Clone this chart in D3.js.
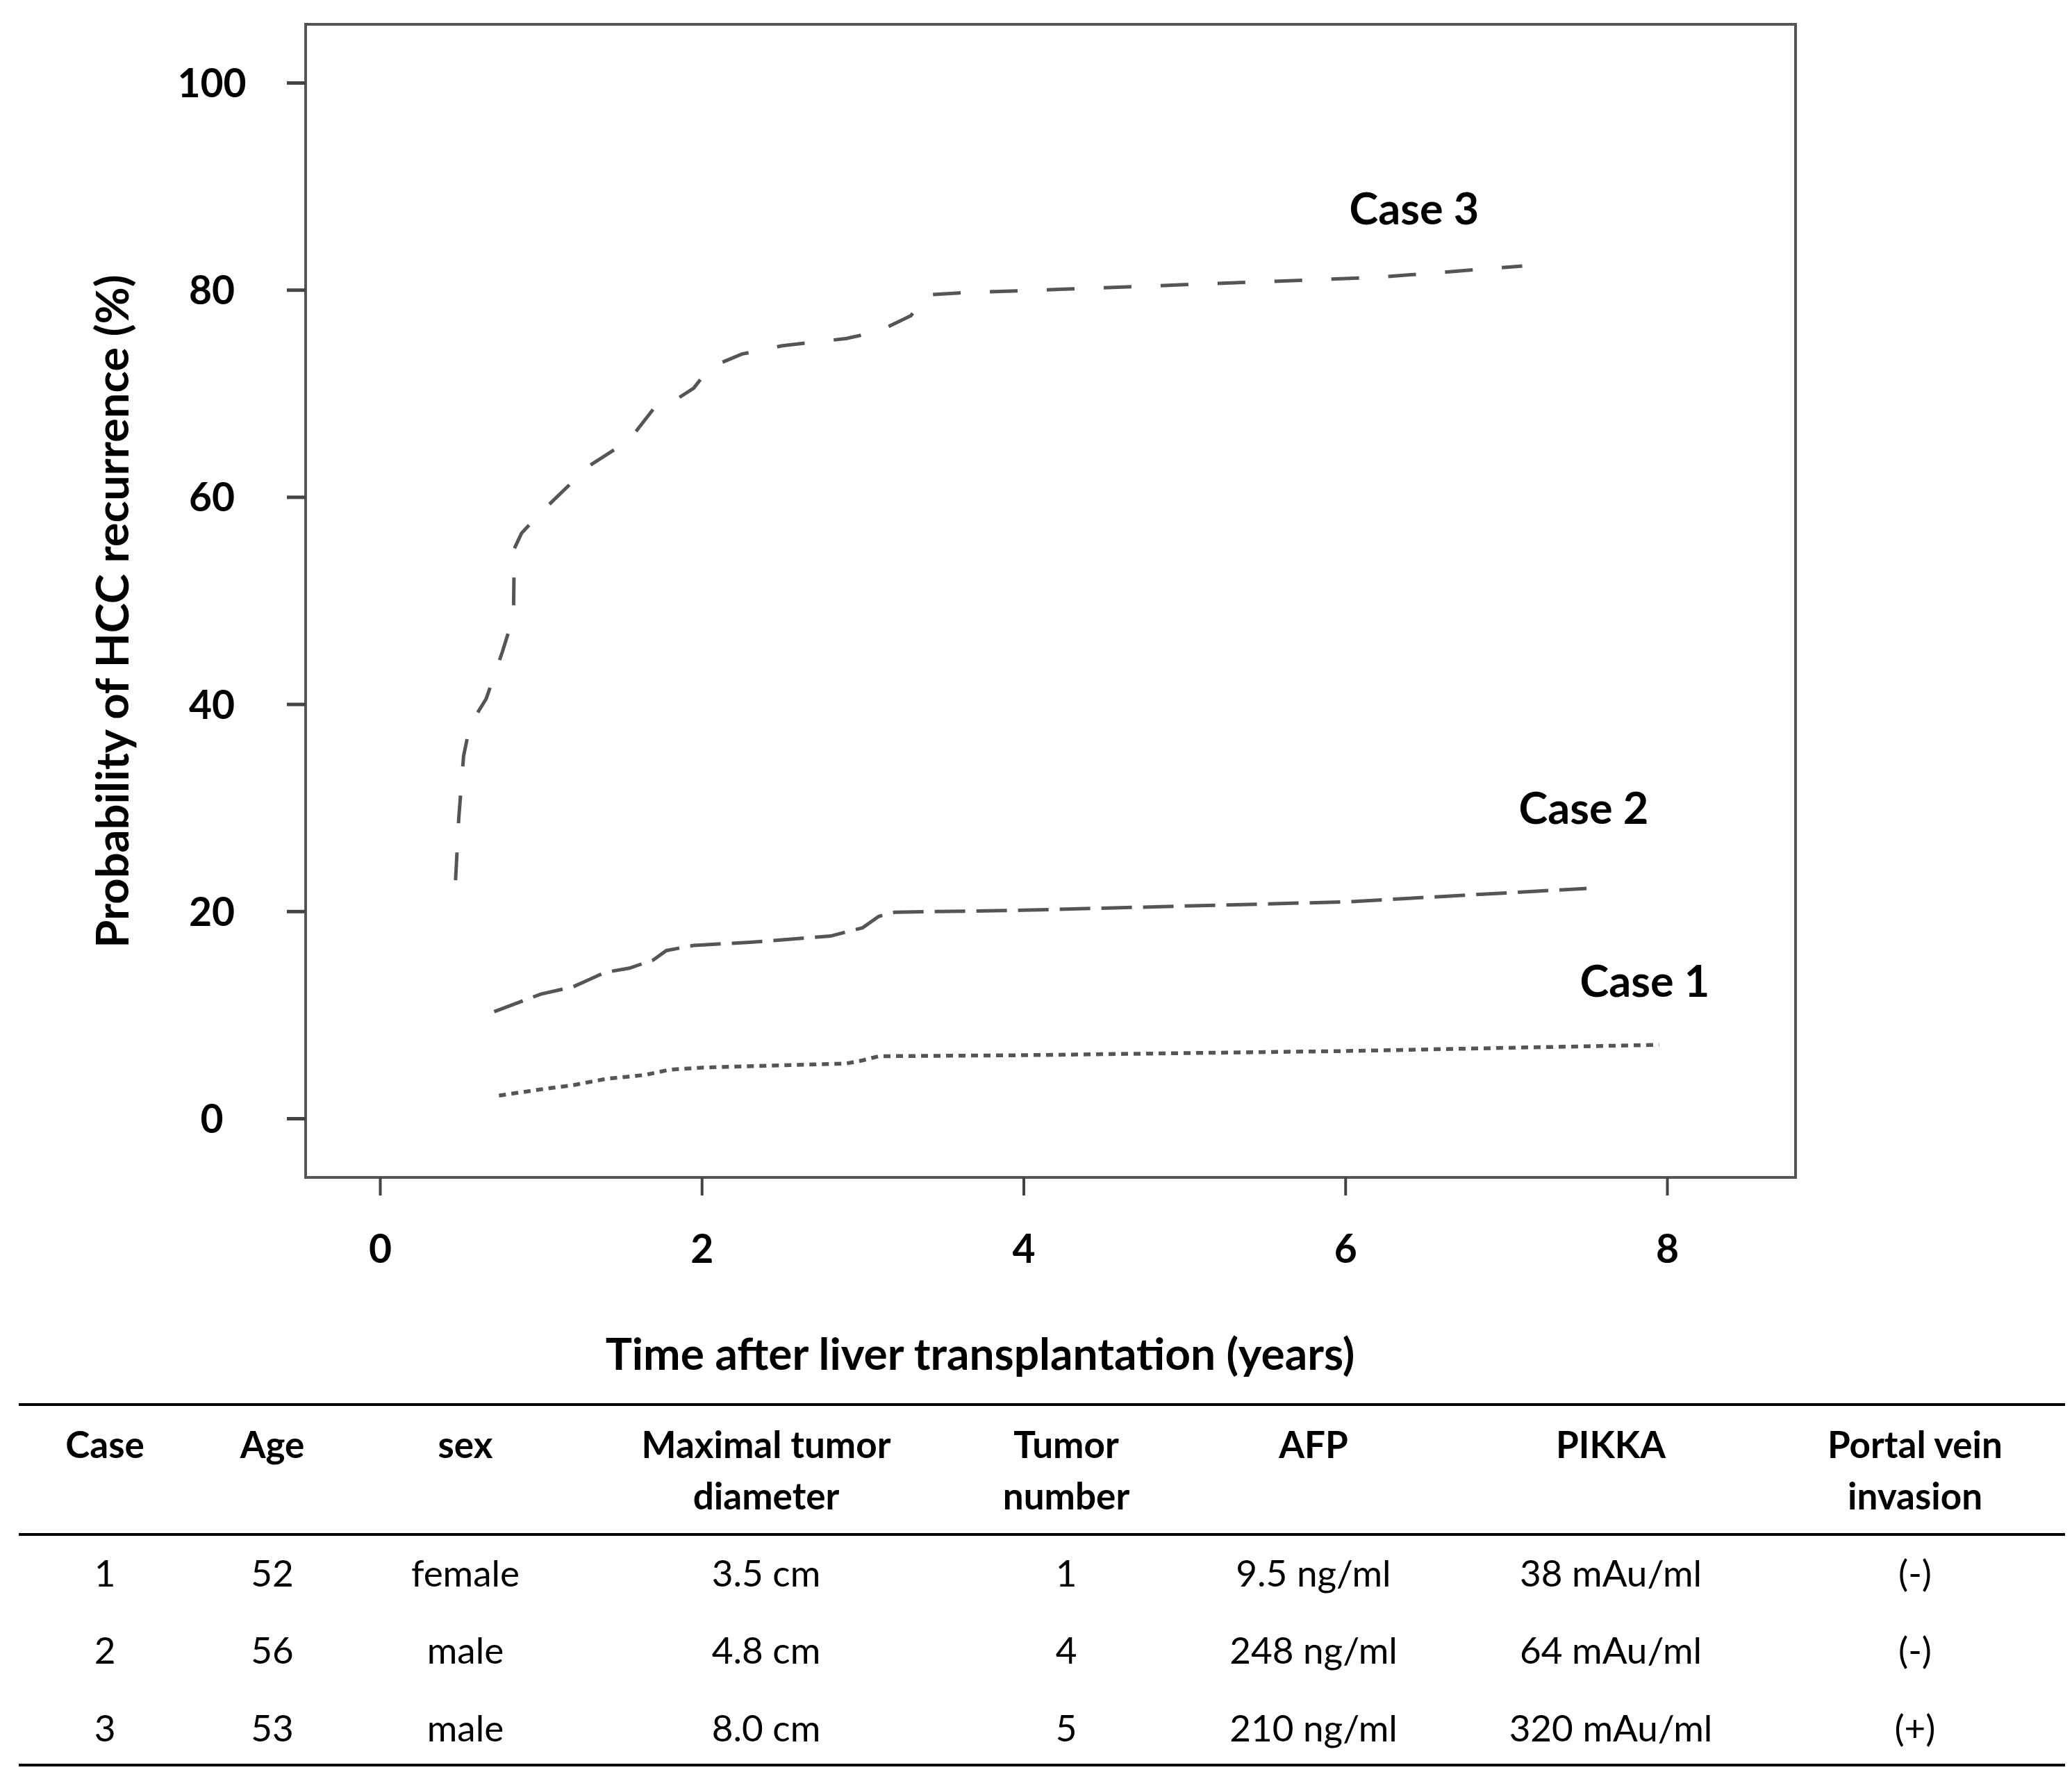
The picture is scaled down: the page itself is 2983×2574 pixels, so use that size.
<!DOCTYPE html>
<html>
<head>
<meta charset="utf-8">
<script src="https://cdn.jsdelivr.net/npm/d3@7"></script>
<style>
  body { margin: 0; background: #fff; }
  svg text { font-family: Lato, "Open Sans", sans-serif; fill: #000; }
</style>
</head>
<body>
<div id="chart"></div>
<script>
// curve values: [years, %]
const case1 = [[0.74, 2.2], [1.0, 2.8], [1.2, 3.2], [1.4, 3.8], [1.65, 4.2], [1.8, 4.7], [2.0, 4.9],
  [2.9, 5.3], [3.0, 5.6], [3.1, 6.0], [4.0, 6.1], [6.0, 6.5], [7.95, 7.1]]
const case2 = [[0.71, 10.3], [1.0, 12.0], [1.2, 12.7], [1.3, 13.4], [1.4, 14.1], [1.55, 14.5], [1.7, 15.3],
  [1.78, 16.2], [1.95, 16.7], [2.3, 17.0], [2.8, 17.6], [3.0, 18.4], [3.1, 19.5], [3.2, 19.9],
  [4.0, 20.1], [6.0, 20.9], [7.5, 22.2]]
const case3 = [[0.47, 23], [0.49, 29], [0.52, 35], [0.56, 38], [0.66, 40.5], [0.76, 45], [0.81, 47.5],
  [0.83, 48.5], [0.835, 55], [0.88, 56.5], [1.0, 58.5], [1.2, 61.5], [1.3, 63], [1.45, 64.5],
  [1.55, 65.5], [1.7, 68.5], [1.85, 69.5], [1.95, 70.5], [2.05, 72.5], [2.25, 73.8], [2.5, 74.6],
  [2.9, 75.3], [3.1, 76], [3.3, 77.5], [3.4, 79.5], [3.6, 79.7], [4.5, 80.2], [6.2, 81.2], [7.1, 82.3]]

const xTicks = [0, 2, 4, 6, 8]
const yTicks = [0, 20, 40, 60, 80, 100]
const caseLabels = ["Case 1", "Case 2", "Case 3"]

// table
const headers = [["Case"], ["Age"], ["sex"], ["Maximal tumor", "diameter"], ["Tumor", "number"],
  ["AFP"], ["PIKKA"], ["Portal vein", "invasion"]]
const caseNo = ["1", "2", "3"]
const ages = ["52", "56", "53"]
const sexes = ["female", "male", "male"]
const diameters = ["3.5 cm", "4.8 cm", "8.0 cm"]
const tumorNumbers = ["1", "4", "5"]
const afp = ["9.5 ng/ml", "248 ng/ml", "210 ng/ml"]
const pikka = ["38 mAu/ml", "64 mAu/ml", "320 mAu/ml"]
const portal = ["(-)", "(-)", "(+)"]

const W = 2983, H = 2574
const box = { left: 440, right: 2585, top: 35, bottom: 1695 }

const svg = d3.select("#chart").append("svg")
  .attr("width", W)
  .attr("height", H)

const x = d3.scaleLinear().domain([0, 8]).range([547, 2400])
const y = d3.scaleLinear().domain([0, 100]).range([1610, 119])

// frame
svg.append("rect")
  .attr("x", box.left).attr("y", box.top)
  .attr("width", box.right - box.left).attr("height", box.bottom - box.top)
  .attr("fill", "none").attr("stroke", "#555").attr("stroke-width", 4)

// y axis
const gy = svg.append("g")
  .attr("transform", "translate(" + box.left + ",0)")
  .call(d3.axisLeft(y).tickValues(yTicks).tickSize(27).tickFormat(d3.format("d")))
gy.select(".domain").remove()
gy.selectAll("line").attr("stroke", "#444").attr("stroke-width", 5)
gy.selectAll("text")
  .attr("x", -135).attr("dy", "0.36em")
  .style("text-anchor", "middle")
  .style("font-size", "57px").style("font-weight", "bold")

// x axis
const gx = svg.append("g")
  .attr("transform", "translate(0," + box.bottom + ")")
  .call(d3.axisBottom(x).tickValues(xTicks).tickSize(26).tickFormat(d3.format("d")))
gx.select(".domain").remove()
gx.selectAll("line").attr("stroke", "#444").attr("stroke-width", 4)
gx.selectAll("text")
  .attr("y", 102).attr("dy", "0.36em")
  .style("font-size", "57px").style("font-weight", "bold")

// axis titles
svg.append("text")
  .attr("transform", "translate(185,880) rotate(-90)")
  .attr("text-anchor", "middle")
  .style("font-size", "65px").style("font-weight", "bold")
  .text("Probability of HCC recurrence (%)")

svg.append("text")
  .attr("x", 1411).attr("y", 1972)
  .attr("text-anchor", "middle")
  .style("font-size", "64px").style("font-weight", "bold")
  .text("Time after liver transplantation (years)")

// curves
const line = d3.line()
  .x(d => x(d[0]))
  .y(d => y(d[1]))

const series = [
  { data: case1, dash: "10,8", width: 5.5, label: caseLabels[0], lx: 2368, ly: 1412 },
  { data: case2, dash: "44,16", width: 5, label: caseLabels[1], lx: 2280, ly: 1163 },
  { data: case3, dash: "40,42", width: 5, label: caseLabels[2], lx: 2036, ly: 300 }
]

series.forEach(s => {
  svg.append("path")
    .datum(s.data)
    .attr("d", line)
    .attr("fill", "none")
    .attr("stroke", "#555")
    .attr("stroke-width", s.width)
    .attr("stroke-dasharray", s.dash)

  svg.append("text")
    .attr("x", s.lx).attr("y", s.ly).attr("dy", "0.36em")
    .attr("text-anchor", "middle")
    .style("font-size", "63px").style("font-weight", "bold")
    .text(s.label)
})

// table below the chart
const colX = [151, 392, 670, 1103, 1535, 1891, 2319, 2757]
const rows = d3.range(3).map(i => [caseNo[i], ages[i], sexes[i], diameters[i], tumorNumbers[i], afp[i], pikka[i], portal[i]])
const rowY = [2284, 2395, 2507]

;[2022, 2209, 2541].forEach(ly => {
  svg.append("line")
    .attr("x1", 27).attr("x2", 2973)
    .attr("y1", ly).attr("y2", ly)
    .attr("stroke", "#000").attr("stroke-width", 4)
})

headers.forEach((h, i) => {
  h.forEach((t, j) => {
    svg.append("text")
      .attr("x", colX[i]).attr("y", 2099 + j * 74)
      .attr("text-anchor", "middle")
      .style("font-size", "53px").style("font-weight", "bold")
      .text(t)
  })
})

rows.forEach((r, i) => {
  r.forEach((t, j) => {
    svg.append("text")
      .attr("x", colX[j]).attr("y", rowY[i])
      .attr("text-anchor", "middle")
      .style("font-size", "53px")
      .text(t)
  })
})
</script>
</body>
</html>
